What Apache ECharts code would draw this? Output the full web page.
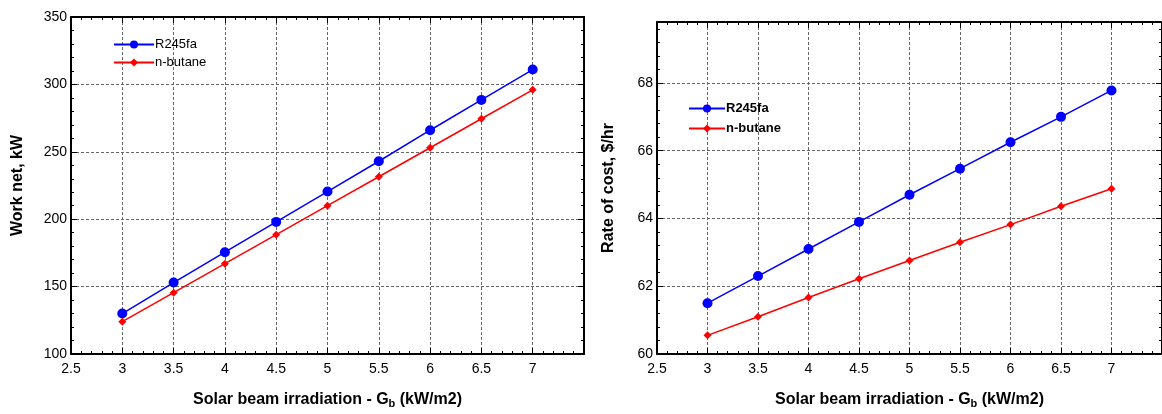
<!DOCTYPE html>
<html>
<head>
<meta charset="utf-8">
<script src="https://cdn.jsdelivr.net/npm/echarts@6/dist/echarts.min.js"></script>
<style>
  html, body { margin: 0; padding: 0; background: #fff; }
  #chart { width: 1162px; height: 414px; }
</style>
</head>
<body>
<div id="chart"></div>
<script>
(function () {
  // solar beam irradiation, kW/m2
  var irradiation = [3, 3.5, 4, 4.5, 5, 5.5, 6, 6.5, 7];
  // work net, kW
  var workR245fa = [130, 153, 175.5, 198, 220.5, 243, 266, 288.5, 311];
  var workButane = [124, 145.5, 167, 188.5, 210, 231.5, 253, 274.5, 296];
  // rate of cost, $/hr
  var costR245fa = [61.5, 62.3, 63.1, 63.9, 64.7, 65.47, 66.25, 67.0, 67.78];
  var costButane = [60.55, 61.1, 61.67, 62.22, 62.76, 63.3, 63.82, 64.36, 64.88];

  function pairs(ys) {
    return irradiation.map(function (x, i) { return [x, ys[i]]; });
  }

  var font = "Liberation Sans, Arial, sans-serif";
  var gridLine = { show: true, lineStyle: { color: "#666", type: [3, 2], width: 1 } };
  var frameLine = { show: true, onZero: false, lineStyle: { color: "#000", width: 2 } };
  var tick = { show: true, inside: true, length: 6, lineStyle: { color: "#000" } };
  var minor = { show: true, splitNumber: 5, length: 3, lineStyle: { color: "#000" } };
  var xName = {
    rich: {
      t: { fontFamily: font, fontSize: 16, fontWeight: "bold", color: "#000" },
      s: { fontFamily: font, fontSize: 11, fontWeight: "bold", color: "#000", verticalAlign: "bottom", padding: [8, 0, 0, 0] }
    }
  };

  function xAxis(gi, top) {
    return {
      type: "value",
      gridIndex: gi,
      position: top ? "top" : "bottom",
      min: 2.5,
      max: 7.5,
      interval: 0.5,
      axisLine: frameLine,
      axisTick: tick,
      minorTick: minor,
      splitLine: top ? { show: false } : gridLine,
      axisLabel: top ? { show: false } : {
        color: "#000", fontFamily: font, fontSize: 14, margin: 8, showMaxLabel: false,
        formatter: function (v) { return v === 7.5 ? "" : String(v); }
      },
      name: top ? "" : "{t|Solar beam irradiation - G}{s|b}{t| (kW/m2)}",
      nameLocation: "middle",
      nameGap: 36,
      nameTextStyle: xName
    };
  }

  function yAxis(gi, right, min, max, interval, name, gap) {
    return {
      type: "value",
      gridIndex: gi,
      position: right ? "right" : "left",
      min: min,
      max: max,
      interval: interval,
      axisLine: frameLine,
      axisTick: tick,
      minorTick: minor,
      splitLine: right ? { show: false } : gridLine,
      axisLabel: right ? { show: false } : {
        color: "#000", fontFamily: font, fontSize: 14, margin: 4,
        formatter: function (v) { return (v - min) % interval === 0 ? String(v) : ""; }
      },
      name: right ? "" : name,
      nameLocation: "middle",
      nameGap: gap,
      nameTextStyle: { fontFamily: font, fontSize: 16, fontWeight: "bold", color: "#000" }
    };
  }

  function line(name, gi, ys, color, symbol, size) {
    return {
      name: name,
      type: "line",
      xAxisIndex: gi * 2,
      yAxisIndex: gi * 2,
      data: pairs(ys),
      symbol: symbol,
      symbolSize: size,
      color: color,
      lineStyle: { color: color, width: 1.5 },
      itemStyle: { color: color },
      animation: false
    };
  }

  var chart = echarts.init(document.getElementById("chart"));
  chart.setOption({
    animation: false,
    grid: [
      { left: 71, top: 17, width: 513, height: 341 },
      { left: 657, top: 22, width: 505, height: 337 }
    ],
    legend: [
      {
        left: 108, top: 33, orient: "vertical", itemWidth: 40, itemHeight: 10, itemGap: 5,
        data: ["R245fa", "n-butane"],
        textStyle: { fontFamily: font, fontSize: 13, color: "#000", padding: [0, 0, 0, -4] }
      },
      {
        left: 683, top: 97, orient: "vertical", itemWidth: 36, itemHeight: 10, itemGap: 7,
        data: ["R245fa", "n-butane"],
        textStyle: { fontFamily: font, fontSize: 13, fontWeight: "bold", color: "#000", padding: [0, 0, 0, -4] }
      }
    ],
    xAxis: [xAxis(0, false), xAxis(0, true), xAxis(1, false), xAxis(1, true)],
    yAxis: [
      yAxis(0, false, 100, 350, 50, "Work net, kW", 45),
      yAxis(0, true, 100, 350, 50, "", 0),
      yAxis(1, false, 60, 69.8, 2, "Rate of cost, $/hr", 40),
      yAxis(1, true, 60, 69.8, 2, "", 0)
    ],
    series: [
      line("R245fa", 0, workR245fa, "#0000ff", "circle", 10),
      line("n-butane", 0, workButane, "#ff0000", "diamond", 8),
      line("R245fa", 1, costR245fa, "#0000ff", "circle", 10),
      line("n-butane", 1, costButane, "#ff0000", "diamond", 8)
    ]
  });

  window.addEventListener("resize", function () {
    chart.resize();
  });
})();
</script>
</body>
</html>
